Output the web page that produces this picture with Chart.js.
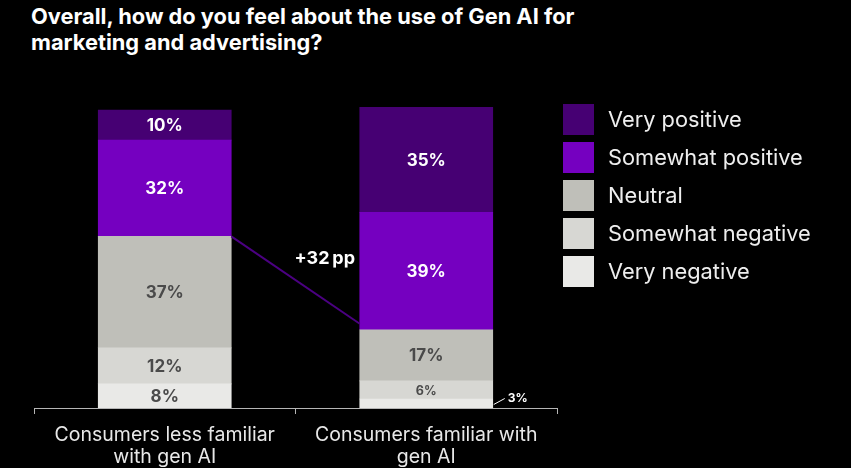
<!DOCTYPE html>
<html>
<head>
<meta charset="utf-8">
<script src="https://cdn.jsdelivr.net/npm/chart.js@4/dist/chart.umd.min.js"></script>
<style>
  html, body { margin: 0; padding: 0; background: #000; }
  #wrap { position: relative; width: 851px; height: 468px; }
  #title {
    position: absolute; left: 31px; top: 3px;
    font-family: Inter, 'Noto Sans', sans-serif; font-weight: 700;
    font-size: 21.8px; line-height: 26px; color: #fff;
  }
  canvas { position: absolute; left: 0; top: 0; }
</style>
</head>
<body>
<div id="wrap">
  <div id="title">Overall, how do you feel about the use of Gen AI for<br>marketing and advertising?</div>
  <canvas id="chart" width="851" height="468"></canvas>
</div>
<script>
// ---- data ----
const categories = [['Consumers less familiar', 'with gen AI'], ['Consumers familiar with', 'gen AI']];
const seriesNames = ['Very negative', 'Somewhat negative', 'Neutral', 'Somewhat positive', 'Very positive'];
const veryNegative = [8, 3];
const somewhatNegative = [12, 6];
const neutral = [37, 17];
const somewhatPositive = [32, 39];
const veryPositive = [10, 35];
const diffLabel = '+32\u2009pp';

const colors = ['#e9e9e7', '#d7d7d3', '#bfbfb9', '#7500c0', '#460073'];
const labelColors = ['#4a4a4a', '#4a4a4a', '#4a4a4a', '#ffffff', '#ffffff'];
const FONT = "Inter, 'Noto Sans', sans-serif";

const seriesValues = [veryNegative, somewhatNegative, neutral, somewhatPositive, veryPositive];

// labels, connector and legend drawn on top of the bars
const overlayPlugin = {
  id: 'overlay',
  afterDatasetsDraw(chart) {
    const ctx = chart.ctx;
    const y = chart.scales.y;
    ctx.save();
    ctx.textAlign = 'center';
    ctx.textBaseline = 'middle';
    chart.data.datasets.forEach((ds, di) => {
      const meta = chart.getDatasetMeta(di);
      meta.data.forEach((bar, i) => {
        const v = ds.data[i];
        const h = bar.base - bar.y;
        const cy = (bar.y + bar.base) / 2;
        if (h < 12) {
          // tiny segment: label outside with leader
          const x0 = bar.x + bar.width / 2;
          ctx.strokeStyle = '#ffffff';
          ctx.lineWidth = 1;
          ctx.beginPath();
          ctx.moveTo(x0 + 1, cy + 1);
          ctx.lineTo(x0 + 12, cy - 5);
          ctx.stroke();
          ctx.fillStyle = '#ffffff';
          ctx.font = '700 12px ' + FONT;
          ctx.textAlign = 'left';
          ctx.fillText(v + '%', x0 + 15, cy - 5);
          ctx.textAlign = 'center';
          return;
        }
        ctx.fillStyle = labelColors[di];
        ctx.font = (h < 20 ? '700 12.5px ' : '700 17px ') + FONT;
        ctx.fillText(v + '%', bar.x, cy + 1);
      });
    });

    // connector between positive boundaries
    const negL = veryNegative[0] + somewhatNegative[0] + neutral[0];
    const negR = veryNegative[1] + somewhatNegative[1] + neutral[1];
    const m = chart.getDatasetMeta(0).data;
    const x1 = m[0].x + m[0].width / 2;
    const x2 = m[1].x - m[1].width / 2;
    const y1 = y.getPixelForValue(negL);
    const y2 = y.getPixelForValue(negR) - 6;
    ctx.strokeStyle = '#4b0082';
    ctx.lineWidth = 2;
    ctx.beginPath();
    ctx.moveTo(x1, y1);
    ctx.lineTo(x2, y2);
    ctx.stroke();
    ctx.fillStyle = '#ffffff';
    ctx.font = '700 18px ' + FONT;
    ctx.fillText(diffLabel, x2 - 35, 259);

    // legend (top item = last series)
    ctx.textAlign = 'left';
    ctx.font = '400 21.8px ' + FONT;
    for (let k = 0; k < seriesNames.length; k++) {
      const idx = seriesNames.length - 1 - k;
      const top = 104 + k * 38;
      ctx.fillStyle = colors[idx];
      ctx.fillRect(563, top, 31, 31);
      ctx.fillStyle = '#eeeeee';
      ctx.fillText(seriesNames[idx], 608, top + 16);
    }
    ctx.restore();
  }
};

new Chart(document.getElementById('chart'), {
  type: 'bar',
  data: {
    labels: categories,
    datasets: seriesNames.map((name, i) => ({
      label: name,
      data: seriesValues[i],
      backgroundColor: colors[i],
      borderWidth: 0,
      barThickness: 133
    }))
  },
  options: {
    responsive: false,
    animation: false,
    layout: { padding: { left: 34, right: 294, top: 107, bottom: 0 } },
    plugins: { legend: { display: false }, tooltip: { enabled: false }, title: { display: false } },
    scales: {
      x: {
        stacked: true,
        offset: true,
        grid: { drawOnChartArea: false, drawTicks: true, tickLength: 6, color: '#b5b5b5', offset: true },
        border: { color: '#b5b5b5', width: 1 },
        ticks: { color: '#e8e8e8', font: { family: FONT, size: 19.5, lineHeight: '22px' }, padding: 10, maxRotation: 0, autoSkip: false },
        afterFit(scale) { scale.height = 60; }
      },
      y: { stacked: true, display: false, min: 0, max: 100 }
    }
  },
  plugins: [overlayPlugin]
});
</script>
</body>
</html>
